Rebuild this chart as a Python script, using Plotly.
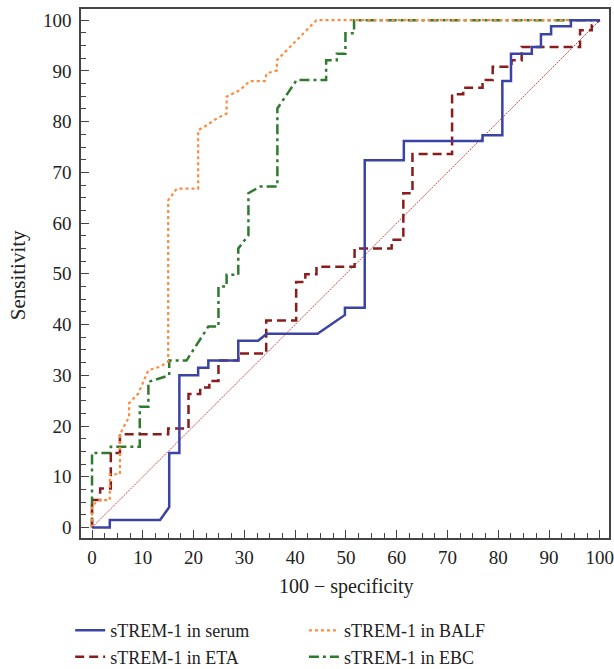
import plotly.graph_objects as go

# ---- data ----
serum_x = [0, 3.5, 3.5, 13.4, 15.2, 15.2, 17.2, 17.2, 20.9, 20.9, 22.9, 22.9, 28.8, 28.8, 32.7, 34.4,
           44.4, 49.8, 49.8, 53.7, 53.7, 61.4, 61.4, 76.9, 76.9, 80.8, 80.8, 82.5, 82.5, 86.6, 86.6,
           88.4, 88.4, 90.4, 90.4, 94.3, 94.3, 100]
serum_y = [0, 0, 1.5, 1.5, 4.0, 14.7, 14.7, 30.0, 30.0, 31.5, 31.5, 32.9, 32.9, 36.8, 36.8, 38.2,
           38.2, 41.9, 43.3, 43.3, 72.4, 72.4, 76.2, 76.2, 77.3, 77.3, 88.0, 88.0, 93.4, 93.4, 94.7,
           94.7, 97.2, 97.2, 98.8, 98.8, 100, 100]

eta_x = [0, 0, 1.6, 1.6, 3.7, 3.7, 5.5, 5.5, 15.0, 15.0, 19.0, 19.0, 21.3, 21.3, 23.1, 23.1, 24.9,
         24.9, 28.8, 28.8, 34.3, 34.3, 40.2, 40.2, 42.0, 42.0, 44.2, 44.2, 51.7, 51.7, 59.0, 59.0,
         61.3, 61.3, 63.1, 63.1, 70.9, 70.9, 73.1, 73.1, 76.9, 76.9, 78.9, 78.9, 82.6, 82.6, 84.6,
         84.6, 96.1, 96.1, 98.4, 98.4, 100]
eta_y = [0, 5.4, 5.4, 7.7, 7.7, 14.7, 14.7, 18.4, 18.4, 19.5, 19.5, 26.3, 26.3, 27.6, 27.6, 28.9,
         28.9, 32.9, 32.9, 34.3, 34.3, 40.8, 40.8, 48.4, 48.4, 49.9, 49.9, 51.4, 51.4, 55.0, 55.0,
         56.7, 56.7, 65.9, 65.9, 73.6, 73.6, 85.4, 85.4, 86.7, 86.7, 88.2, 88.2, 90.8, 90.8, 92.1,
         92.1, 94.7, 94.7, 98.0, 98.0, 99.0, 100]

balf_x = [0, 0, 1.5, 3.5, 3.5, 5.5, 5.5, 7.3, 7.3, 9.1, 11.1, 13.4, 15.0, 15.0, 16.7, 20.9, 20.9,
          22.6, 24.5, 26.5, 26.5, 29.1, 31.1, 34.0, 34.4, 36.4, 36.4, 44.2, 100]
balf_y = [0, 4.4, 5.4, 5.4, 10.5, 10.5, 18.4, 21.8, 24.5, 26.4, 31.0, 31.7, 32.7, 64.5, 66.8, 66.8,
          78.3, 79.3, 80.6, 81.6, 84.9, 86.2, 88.0, 88.0, 89.5, 90.1, 92.1, 100, 100]

ebc_x = [0, 0, 3.7, 3.7, 9.4, 9.4, 11.1, 11.1, 15.2, 15.2, 18.6, 22.9, 24.9, 24.9, 26.5, 26.5,
         28.8, 28.8, 30.8, 30.8, 33.1, 36.5, 36.5, 40.3, 46.1, 46.1, 48.2, 48.2, 49.9, 49.9, 51.6,
         51.6, 100]
ebc_y = [0, 14.7, 14.7, 15.9, 15.9, 23.8, 23.8, 28.7, 30.0, 32.9, 32.9, 39.6, 39.6, 47.5, 47.5,
         49.8, 49.8, 55.0, 57.6, 65.9, 67.2, 67.2, 82.6, 88.2, 88.2, 92.1, 92.1, 93.4, 93.4, 97.4,
         97.4, 100, 100]

ref_x = [0, 100]
ref_y = [0, 100]

names = ["sTREM-1 in serum", "sTREM-1 in BALF", "sTREM-1 in ETA", "sTREM-1 in EBC"]
x_title = "100 \u2212 specificity"
y_title = "Sensitivity"
x_tick_vals = [0, 10, 20, 30, 40, 50, 60, 70, 80, 90, 100]
y_tick_vals = [0, 10, 20, 30, 40, 50, 60, 70, 80, 90, 100]

FONT = "Liberation Serif"

fig = go.Figure()
fig.add_trace(go.Scatter(x=ref_x, y=ref_y, mode="lines", showlegend=False,
                         line=dict(color="#c84f4f", width=1, dash="2px,1px"), hoverinfo="skip"))
fig.add_trace(go.Scatter(x=ebc_x, y=ebc_y, mode="lines", name=names[3], legend="legend2",
                         legendgroup="d", legendrank=2,
                         line=dict(color="#2f7a2f", width=2.5, dash="10px,4px,3px,4px")))
fig.add_trace(go.Scatter(x=eta_x, y=eta_y, mode="lines", name=names[2], legend="legend",
                         legendgroup="c", legendrank=2,
                         line=dict(color="#8b1c1c", width=2.5, dash="9px,5px")))
fig.add_trace(go.Scatter(x=balf_x, y=balf_y, mode="lines", name=names[1], legend="legend2",
                         legendgroup="b", legendrank=1,
                         line=dict(color="#ff8a3d", width=2.2, dash="dot")))
fig.add_trace(go.Scatter(x=serum_x, y=serum_y, mode="lines", name=names[0], legend="legend",
                         legendgroup="a", legendrank=1,
                         line=dict(color="#3b43a6", width=2.5)))

axis_common = dict(
    showline=True, linecolor="#444", linewidth=1.5, mirror=True,
    ticks="inside", ticklen=8, tickwidth=1.2, tickcolor="#444",
    minor=dict(ticks="inside", dtick=2.5, ticklen=5, tickwidth=1, tickcolor="#444"),
    showgrid=False, zeroline=False, ticklabeloverflow="allow",
    tickfont=dict(family=FONT, size=19, color="#222"),
)

fig.update_layout(
    width=614, height=669,
    margin=dict(l=81, r=5, t=9, b=131, autoexpand=False),
    paper_bgcolor="white", plot_bgcolor="white",
    font=dict(family=FONT, color="#222"),
    xaxis=dict(range=[-2.17, 101.8], tickvals=x_tick_vals, ticklabelstandoff=1, **axis_common),
    yaxis=dict(range=[-2.07, 102.2], tickvals=y_tick_vals, ticklabelstandoff=4, **axis_common),
    legend=dict(x=0.1143, y=0.085, xref="container", yref="container",
                xanchor="left", yanchor="top", orientation="v",
                font=dict(family=FONT, size=18), tracegroupgap=2, bgcolor="rgba(0,0,0,0)",
                traceorder="normal"),
    legend2=dict(x=0.495, y=0.085, xref="container", yref="container",
                 xanchor="left", yanchor="top", orientation="v",
                 font=dict(family=FONT, size=18), tracegroupgap=2, bgcolor="rgba(0,0,0,0)",
                 traceorder="normal"),
    annotations=[
        dict(text=x_title, xref="paper", yref="paper", x=0.502, y=-0.0926,
             xanchor="center", yanchor="middle", showarrow=False,
             font=dict(family=FONT, size=20, color="#222")),
        dict(text=y_title, xref="paper", yref="paper", x=-0.119, y=0.497,
             xanchor="center", yanchor="middle", showarrow=False, textangle=-90,
             font=dict(family=FONT, size=21, color="#222")),
    ],
)

fig.write_html("out.html", config={"displayModeBar": False},
               post_script="document.body.style.margin='0px';document.body.style.overflow='hidden';")
